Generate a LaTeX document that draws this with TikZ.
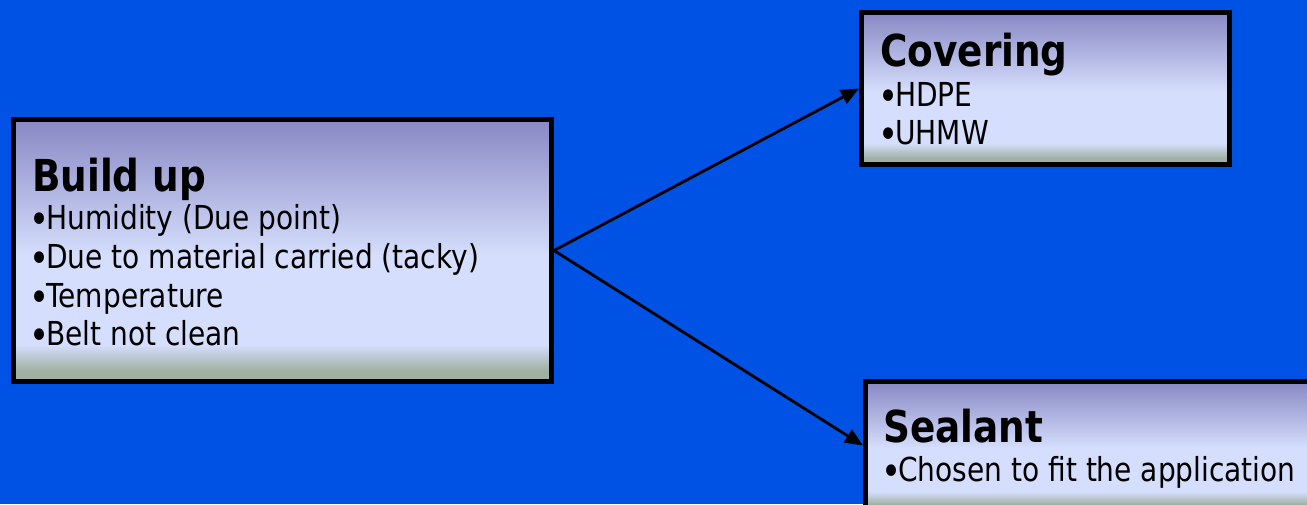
\documentclass[tikz,border=0pt]{standalone}
\usepackage{fontspec}
\setmainfont{DejaVu Sans}[FakeStretch=0.85]
\usetikzlibrary{arrows.meta}
\definecolor{bg}{RGB}{0,82,229}
\definecolor{gtop}{RGB}{136,136,196}
\definecolor{glight}{RGB}{213,222,252}
\definecolor{gbot}{RGB}{160,176,162}
\pgfdeclareverticalshading{boxgrad}{100bp}{color(0bp)=(gbot); color(25bp)=(gbot); color(27bp)=(gbot); color(32bp)=(glight); color(49bp)=(glight); color(75bp)=(gtop); color(100bp)=(gtop)}
\newcommand{\bul}{{\fontsize{40}{40}\selectfont\raisebox{-4.5pt}{•}}\kern-3pt}
\tikzset{
  box/.style={draw=black, line width=5pt, shading=boxgrad, rectangle, inner sep=0pt, anchor=north west},
  ttl/.style={anchor=base west, inner sep=0pt, font=\fontsize{44}{50}\selectfont\bfseries},
  txt/.style={anchor=base west, inner sep=0pt, font=\fontsize{33}{38}\selectfont},
  conn/.style={line width=2.8pt, -{Triangle[length=18pt,width=15pt]}}
}
\begin{document}
\begin{tikzpicture}[x=1pt,y=-1pt]
\useasboundingbox (0,0) rectangle (1307,504);
\clip (0,0) rectangle (1307,504);
\fill[bg] (0,0) rectangle (1307,504);
\node[box, minimum width=538pt, minimum height=262pt] (build) at (11,117) {};
\node[box, minimum width=368pt, minimum height=152pt] (cover) at (859,10) {};
\node[box, minimum width=470pt, minimum height=128pt] (seal) at (863,379) {};
\node[ttl] (t1) at (32,191) {Build up};
\node[txt] (b1) at (29,229) {\bul Humidity (Due point)};
\node[txt] (b2) at (29,268) {\bul Due to material carried (tacky)};
\node[txt] (b3) at (29,307) {\bul Temperature};
\node[txt] (b4) at (29,345) {\bul Belt not clean};
\node[ttl] (t2) at (880,66) {Covering};
\node[txt] (c1) at (878,106) {\bul HDPE};
\node[txt] (c2) at (878,144) {\bul UHMW};
\node[ttl] (t3) at (883,442) {Sealant};
\node[txt] (s1) at (881,481) {\bul Chosen to fit the application};
\draw[conn] (build.east) -- (cover.west);
\draw[conn] (build.east) -- (seal.west);
\end{tikzpicture}
\end{document}
